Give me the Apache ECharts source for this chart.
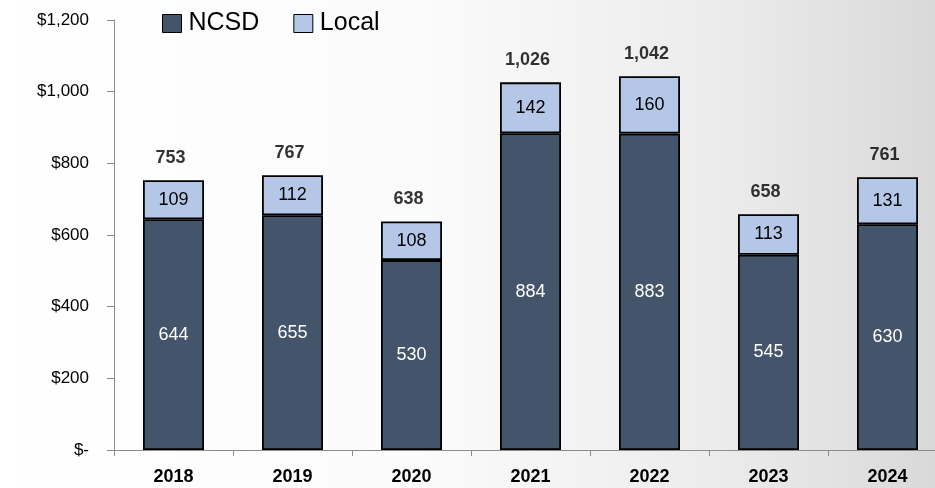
<!DOCTYPE html>
<html>
<head>
<meta charset="utf-8">
<script src="https://cdn.jsdelivr.net/npm/echarts@6/dist/echarts.min.js"></script>
<style>
  html, body { margin: 0; padding: 0; overflow: hidden; }
  body {
    width: 935px; height: 488px;
    background: linear-gradient(90deg, #ffffff 0%, #fbfbfb 45%, #ebebeb 78%, #d9d9d9 100%);
  }
  #main { width: 947px; height: 488px; }
</style>
</head>
<body>
<div id="main"></div>
<script>
// 年份
var years = ['2018', '2019', '2020', '2021', '2022', '2023', '2024'];
// 州 NCSD
var ncsd = [644, 655, 530, 884, 883, 545, 630];
// 地方 Local
var local = [109, 112, 108, 142, 160, 113, 131];
// 合计
var totals = [753, 767, 638, 1026, 1042, 658, 761];
// y轴刻度
var yMin = 0, yMax = 1200, yStep = 200;

var font = 'Liberation Sans, Arial, sans-serif';
var chart = echarts.init(document.getElementById('main'));

chart.setOption({
    animation: false,
    textStyle: { fontFamily: font },
    legend: {
        left: 157, top: 6,
        icon: 'rect',
        itemWidth: 19, itemHeight: 18, itemGap: 34,
        textStyle: { fontSize: 25, color: '#000', fontFamily: font, padding: [0, 0, 0, 2] },
        itemStyle: { borderColor: '#000', borderWidth: 1 },
        data: ['NCSD', 'Local']
    },
    grid: { left: 114, right: 0, top: 20, bottom: 38 },
    xAxis: {
        type: 'category',
        data: years,
        axisLine: { lineStyle: { color: '#8c8c8c', width: 1 } },
        axisTick: { show: true, length: 6, lineStyle: { color: '#8c8c8c' } },
        axisLabel: { fontSize: 18, fontWeight: 'bold', color: '#000', margin: 18 }
    },
    yAxis: {
        type: 'value',
        min: yMin, max: yMax, interval: yStep,
        splitLine: { show: false },
        axisLine: { show: true, lineStyle: { color: '#8c8c8c' } },
        axisTick: { show: true, length: 7, lineStyle: { color: '#8c8c8c' } },
        axisLabel: {
            fontSize: 17, color: '#000', margin: 25,
            formatter: function (v) {
                return v === 0 ? '$-' : '$' + v.toLocaleString('en-US');
            }
        }
    },
    series: [
        {
            name: 'NCSD', type: 'bar', stack: 'total', barWidth: 61,
            itemStyle: { color: '#44546a', borderColor: '#000', borderWidth: 1.8 },
            label: { show: true, position: 'inside', color: '#fff', fontSize: 18 },
            data: ncsd
        },
        {
            name: 'Local', type: 'bar', stack: 'total',
            itemStyle: { color: '#b4c7e7', borderColor: '#000', borderWidth: 1.8 },
            label: { show: true, position: 'inside', color: '#000', fontSize: 18 },
            data: local
        },
        {   /*合计标签*/
            name: 'Total', type: 'scatter',
            data: totals,
            symbolSize: 1,
            itemStyle: { color: 'rgba(0,0,0,0)' },
            label: {
                show: true, position: 'top', distance: 13,
                fontSize: 18, fontWeight: 'bold', color: '#000', offset: [-3, 0],
                formatter: function (p) { return p.value.toLocaleString('en-US'); }
            },
            emphasis: { disabled: true },
            z: 5
        }
    ]
});
</script>
</body>
</html>
